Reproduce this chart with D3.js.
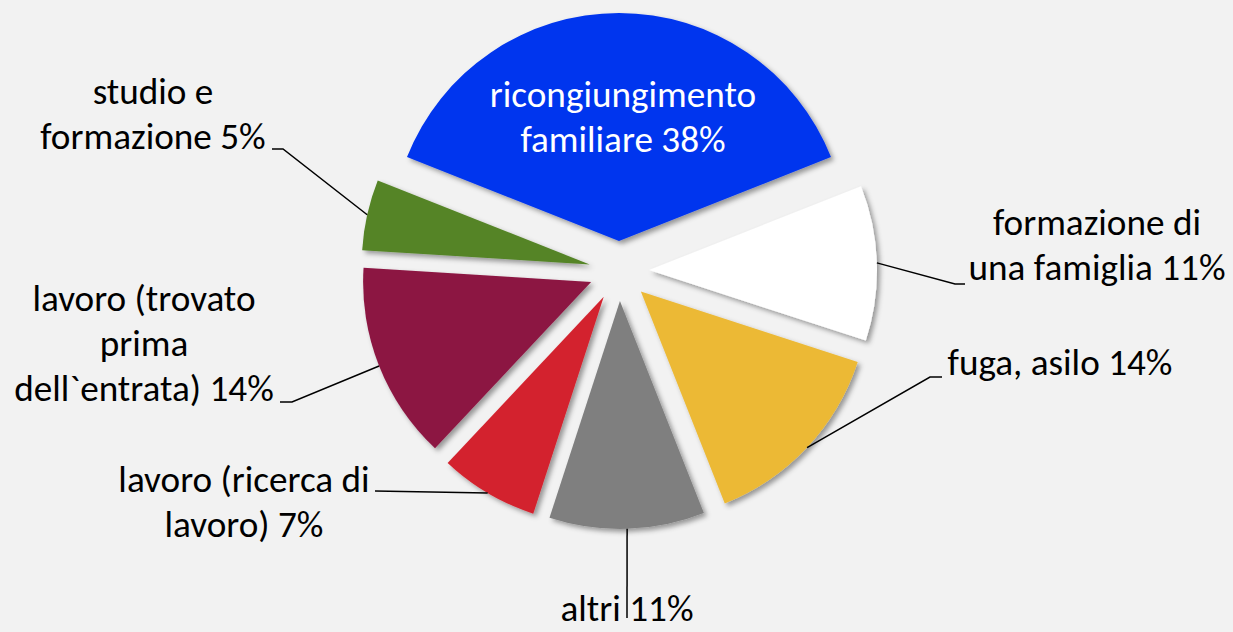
<!DOCTYPE html>
<html>
<head>
<meta charset="utf-8">
<script src="https://cdn.jsdelivr.net/npm/d3@7"></script>
<style>
  html, body { margin: 0; padding: 0; background: #f2f2f2; }
  svg { display: block; }
</style>
</head>
<body>
<svg id="chart" width="1233" height="632"></svg>
<script>
// ---- data ----
const categories = [
  "ricongiungimento familiare",
  "formazione di una famiglia",
  "fuga, asilo",
  "altri",
  "lavoro (ricerca di lavoro)",
  "lavoro (trovato prima dell`entrata)",
  "studio e formazione"
];
const values = [38, 11, 14, 11, 7, 14, 5];
const colors = ["#0336ee", "#ffffff", "#ecb936", "#7f7f7f", "#d3232e", "#8c1642", "#548427"];

// ---- layout (positions/styles only) ----
const W = 1233, H = 632;
const cx = 619, cy = 271, R = 228, explode = 30;
// words per line, label anchor (center x, first baseline y), leader elbow + end
const labelLayout = [
  { lines: [1, 2], x: 623, y: 107, color: "#ffffff", leader: null },
  { lines: [2, 3], x: 1097, y: 235, color: "#000", leader: [[955, 284], [965, 284]] },
  { lines: [3], x: 1060, y: 375, color: "#000", leader: [[930, 377], [942, 377]] },
  { lines: [2], x: 627, y: 621, color: "#000", leader: [[627, 618]] },
  { lines: [3, 2], x: 244, y: 492, color: "#000", leader: [[375, 491]] },
  { lines: [2, 1, 2], x: 144, y: 311, color: "#000", leader: [[292, 402], [280, 402]] },
  { lines: [2, 2], x: 153, y: 104, color: "#000", leader: [[283, 149], [272, 149]] }
];
const lineGap = 45;

const svg = d3.select("#chart");
svg.append("rect").attr("width", W).attr("height", H).attr("fill", "#f2f2f2");

const defs = svg.append("defs");
const f = defs.append("filter").attr("id", "shadow")
  .attr("x", "-20%").attr("y", "-20%").attr("width", "140%").attr("height", "140%");
f.append("feDropShadow").attr("dx", 3).attr("dy", 3).attr("stdDeviation", 2.5)
  .attr("flood-color", "#000").attr("flood-opacity", 0.38);

const total = d3.sum(values);
const start = -Math.PI * values[0] / total;
const pie = d3.pie().sort(null).value(d => d)
  .startAngle(start).endAngle(start + 2 * Math.PI);
const arcs = pie(values);
const arc = d3.arc().innerRadius(0).outerRadius(R);

const g = svg.append("g").attr("transform", `translate(${cx},${cy})`);
const offset = a => {
  const m = (a.startAngle + a.endAngle) / 2;
  return [Math.sin(m) * explode, -Math.cos(m) * explode];
};

g.selectAll("path.slice").data(arcs).join("path")
  .attr("class", "slice")
  .attr("transform", d => { const o = offset(d); return `translate(${o[0]},${o[1]})`; })
  .attr("d", arc)
  .attr("fill", (d, i) => colors[i])
  .attr("filter", "url(#shadow)");

// font sizing to match reference label width
const fontFamily = "Carlito, Lato, 'Open Sans', sans-serif";
const probe = svg.append("text").attr("font-family", fontFamily).attr("font-size", 100)
  .text(categories[2] + " " + values[2] + "%");
const probeW = probe.node().getComputedTextLength();
probe.remove();
const fontSize = 100 * 225 / probeW;

// leader lines
const lineGen = d3.line();
arcs.forEach((a, i) => {
  const L = labelLayout[i];
  if (!L.leader) return;
  const m = (a.startAngle + a.endAngle) / 2;
  const o = offset(a);
  const p0 = [cx + o[0] + Math.sin(m) * R, cy + o[1] - Math.cos(m) * R];
  svg.append("path")
    .attr("d", lineGen([p0, ...L.leader]))
    .attr("fill", "none").attr("stroke", "#000").attr("stroke-width", 1.5);
});

// labels
arcs.forEach((a, i) => {
  const L = labelLayout[i];
  const words = (categories[i] + " " + values[i] + "%").split(" ");
  const lines = [];
  let k = 0;
  L.lines.forEach(n => { lines.push(words.slice(k, k + n).join(" ")); k += n; });
  const t = svg.append("text")
    .attr("font-family", fontFamily).attr("font-size", fontSize)
    .attr("fill", L.color).attr("text-anchor", "middle");
  lines.forEach((s, j) => {
    t.append("tspan").attr("x", L.x).attr("y", L.y + j * lineGap).text(s);
  });
});
</script>
</body>
</html>
